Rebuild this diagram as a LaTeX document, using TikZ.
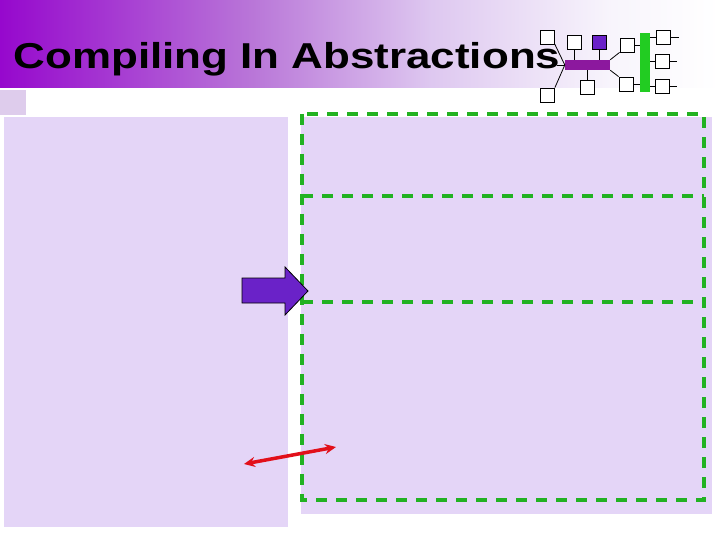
\documentclass[tikz,border=0pt]{standalone}
\usepackage{fontspec}
\usepackage{tikz}
\usetikzlibrary{arrows.meta}
\newfontfamily\titlefont{Liberation Sans}

\definecolor{panelfill}{RGB}{228,213,247}
\definecolor{cornerfill}{RGB}{222,204,236}
\definecolor{dashgreen}{RGB}{34,178,34}
\definecolor{busgreen}{RGB}{34,204,34}
\definecolor{hubpurple}{RGB}{140,24,158}
\definecolor{boxpurple}{RGB}{106,34,200}
\definecolor{arrowred}{RGB}{226,16,26}
\definecolor{titleA}{RGB}{150,8,205}
\definecolor{titleB}{RGB}{185,118,216}
\definecolor{titleC}{RGB}{222,200,240}
\definecolor{titleD}{RGB}{248,245,252}
% stops between 25bp and 75bp span the shaded path
\pgfdeclarehorizontalshading{titleshade}{100bp}{color(0bp)=(titleA); color(25bp)=(titleA);
  color(42.5bp)=(titleB); color(55bp)=(titleC); color(67.5bp)=(titleD); color(75bp)=(white);
  color(100bp)=(white)}

\tikzset{
  netbox/.style={draw=black, fill=white, line width=0.8pt, minimum size=14pt, inner sep=0pt},
  netline/.style={black, line width=0.8pt},
  region/.style={dashgreen, line width=3.5pt, dash pattern=on 11pt off 9pt}
}

\begin{document}
\begin{tikzpicture}[x=1pt, y=-1pt]
\useasboundingbox (0,0) rectangle (720,540);
\fill[white] (0,0) rectangle (720,540);

% TITLE BAR
  \shade[shading=titleshade] (0,0) rectangle (720,88);
  \fill[cornerfill] (0,90) rectangle (26,115);
  \node[font=\titlefont\fontsize{36}{40}\selectfont\bfseries, anchor=base west, inner sep=0pt] (title)
    at (13.5,68.5) {\scalebox{1.22}[1]{Compiling In Abstractions}};

% PANELS
  \fill[panelfill] (4,117) rectangle (288,527);
  \fill[panelfill] (301,117) rectangle (712,514);

% Dashed regions
  \draw[region] (302,114) rectangle (704,500);
  \draw[region] (302,196) -- (704,196);
  \draw[region] (302,302) -- (704,302);

% Arrows
  \draw[black, line width=0.8pt, fill=boxpurple] (242,278) -- (285,278) -- (285,267) -- (308,291)
    -- (285,315) -- (285,303) -- (242,303) -- cycle;
  \draw[arrowred, line width=3.5pt, {Stealth[length=11pt,width=10pt]}-{Stealth[length=11pt,width=10pt]}]
    (244,464) -- (336,447);

% NETWORK ICON
  \node[fill=hubpurple, minimum width=45pt, minimum height=10pt, inner sep=0pt] (hub) at (587.5,65) {};
  \node[fill=busgreen, minimum width=10pt, minimum height=59pt, inner sep=0pt] (bus) at (645,62.5) {};
  \node[netbox] (n1) at (547.5,37) {};
  \node[netbox] (n2) at (574,42) {};
  \node[netbox, fill=boxpurple] (n3) at (599,42) {};
  \node[netbox] (n4) at (627,45) {};
  \node[netbox] (n5) at (587.5,87) {};
  \node[netbox] (n6) at (547.5,95) {};
  \node[netbox] (n7) at (626,84) {};
  \node[netbox] (n8) at (663.5,37) {};
  \node[netbox] (n9) at (662,61) {};
  \node[netbox] (n10) at (662,86) {};
  \coordinate (stub) at (556.5,65);

  \draw[netline] (n1.south east) -- (hub.west);
  \draw[netline] (n6.north east) -- (hub.west);
  \draw[netline] (stub) -- (hub.west);
  \draw[netline] (n2.south) -- (n2 |- hub.north);
  \draw[netline] (n3.south) -- (n3 |- hub.north);
  \draw[netline] (n5.north) -- (n5 |- hub.south);
  \draw[netline] (hub.north east) -- (n4.south west);
  \draw[netline] (hub.south east) -- (n7.north west);
  \draw[netline] (n4.east) -- (n4 -| bus.west);
  \draw[netline] (n7.east) -- (n7 -| bus.west);
  \draw[netline] (bus.east |- n8) -- (n8.west);
  \draw[netline] (bus.east |- n9) -- (n9.west);
  \draw[netline] (bus.east |- n10) -- (n10.west);
  \draw[netline] (n8.east) -- ++(8,0);
  \draw[netline] (n9.east) -- ++(8,0);
  \draw[netline] (n10.east) -- ++(8,0);
\end{tikzpicture}
\end{document}
